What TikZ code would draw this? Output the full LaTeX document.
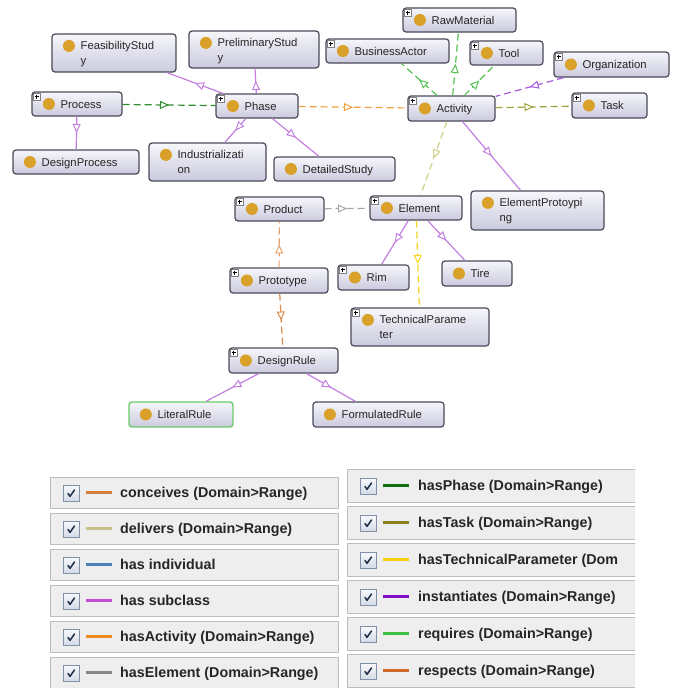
\documentclass[tikz,border=0pt]{standalone}
\usepackage{fontspec}
\setmainfont{Liberation Sans}
\usetikzlibrary{arrows.meta,decorations.markings,fit,calc}
\definecolor{nodetop}{HTML}{F6F6FB}
\definecolor{nodebot}{HTML}{CACADE}
\definecolor{nodeedge}{HTML}{4A4A58}
\definecolor{dotc}{HTML}{D9A02A}
\definecolor{litgreen}{HTML}{6CCB6C}
\definecolor{txtc}{HTML}{262626}
% graph edge colours
\definecolor{gsub}{HTML}{C47FE0}
\definecolor{gphase}{HTML}{2E8B2E}
\definecolor{gact}{HTML}{F2A040}
\definecolor{greq}{HTML}{55C455}
\definecolor{ginst}{HTML}{A65AE0}
\definecolor{gtask}{HTML}{A0A038}
\definecolor{gdel}{HTML}{CFCF88}
\definecolor{gelem}{HTML}{A8A8A8}
\definecolor{gtp}{HTML}{F2D41A}
\definecolor{gconc}{HTML}{E5A070}
\definecolor{gresp}{HTML}{DC8A48}
% legend colours
\definecolor{lconc}{HTML}{D4803C}
\definecolor{ldel}{HTML}{C8C08A}
\definecolor{lind}{HTML}{4A80B8}
\definecolor{lsub}{HTML}{C050D0}
\definecolor{lact}{HTML}{F08A20}
\definecolor{lelem}{HTML}{888888}
\definecolor{lphase}{HTML}{107010}
\definecolor{ltask}{HTML}{8A8020}
\definecolor{ltp}{HTML}{F8D010}
\definecolor{linst}{HTML}{8010C8}
\definecolor{lreq}{HTML}{40C040}
\definecolor{lresp}{HTML}{D06828}
\definecolor{rowfill}{HTML}{EEEEEE}
\definecolor{rowedge}{HTML}{BDBDBD}
\definecolor{chktop}{HTML}{F8F9FC}
\definecolor{chkbot}{HTML}{D3DBE6}
\definecolor{chkedge}{HTML}{8391A8}
\definecolor{chkmark}{HTML}{1C2C44}

\tikzset{
  clsnode/.style={draw=nodeedge,line width=1.2pt,rounded corners=3pt,
    top color=nodetop,bottom color=nodebot,inner sep=0pt},
  lbl/.style={inner sep=0pt,text=txtc,font=\fontsize{11.3}{13}\selectfont},
  plusbox/.style={draw=gray,fill=white,line width=0.5pt},
  edge/.style={line width=1.2pt},
  dsh/.style={dash pattern=on 7pt off 4pt},
  midarr/.style={postaction={decorate,decoration={markings,
     mark=at position 0.5 with {\arrow[solid,line width=1pt]{Triangle[open,length=9pt,width=8pt,fill=white]}}}}},
  subedge/.style={edge,draw=gsub,midarr},
  phaseedge/.style={edge,dsh,draw=gphase,midarr},
  actedge/.style={edge,dsh,draw=gact,midarr},
  reqedge/.style={edge,dsh,draw=greq,midarr},
  instedge/.style={edge,dsh,draw=ginst,midarr},
  taskedge/.style={edge,dsh,draw=gtask,midarr},
  deledge/.style={edge,dsh,draw=gdel,midarr},
  elemedge/.style={edge,dsh,draw=gelem,midarr},
  tpedge/.style={edge,dsh,draw=gtp,midarr},
  concedge/.style={edge,dsh,draw=gconc,midarr},
  respedge/.style={edge,dsh,draw=gresp,midarr},
  legrow/.style={draw=rowedge,fill=rowfill,line width=0.8pt,inner sep=0pt},
  chkbox/.style={draw=chkedge,top color=chktop,bottom color=chkbot,line width=0.8pt,
    minimum size=16pt,inner sep=0pt},
  legtxt/.style={inner sep=0pt,text=txtc,font=\fontsize{14.3}{16}\selectfont\bfseries},
}

\newcommand\clsbox[6]{\node[clsnode,#6,fit={(#2,#3) (#4,#5)}] (#1) {};}
\newcommand\oneline[2]{%
  \fill[dotc] ($(#1.west)+(17.5,0)$) circle (6);
  \node[lbl,anchor=base west] (#1-t) at ($(#1.west)+(29,4)$) {#2};}
\newcommand\twoline[3]{%
  \fill[dotc] ($(#1.north west)+(17.5,12.5)$) circle (6);
  \node[lbl,anchor=base west] (#1-t1) at ($(#1.north west)+(29,16.5)$) {#2};
  \node[lbl,anchor=base west] (#1-t2) at ($(#1.north west)+(29,31)$) {#3};}
\newcommand\plusic[1]{%
  \draw[plusbox] ($(#1.north west)+(2,2)$) rectangle ++(6.5,6.5);
  \draw[black,line width=0.6pt] ($(#1.north west)+(3.4,5.25)$) -- ++(3.7,0)
     ($(#1.north west)+(5.25,3.4)$) -- ++(0,3.7);}

\begin{document}
\begin{tikzpicture}[x=1pt,y=-1pt]
\useasboundingbox[fill=white] (0,0) rectangle (678,688);

% ---------------- class nodes ----------------
\clsbox{Feas}{52}{34}{176}{72}{}
\clsbox{Prelim}{189}{31}{319}{68}{}
\clsbox{Process}{32}{92}{122}{116}{}
\clsbox{Phase}{216}{94}{298}{118}{}
\clsbox{DesignProcess}{13}{150}{139}{174}{}
\clsbox{Indus}{149}{143}{266}{181}{}
\clsbox{Detailed}{274}{157}{395}{181}{}
\clsbox{RawMaterial}{403}{8}{516}{32}{}
\clsbox{BusinessActor}{326}{39}{449}{63}{}
\clsbox{Tool}{470}{41}{543}{65}{}
\clsbox{Organization}{554}{52}{669}{77}{}
\clsbox{Activity}{408}{96}{495}{121}{}
\clsbox{Task}{572}{93}{647}{118}{}
\clsbox{ElemProto}{471}{191}{604}{230}{}
\clsbox{Element}{370}{196}{462}{220}{}
\clsbox{Product}{235}{197}{324}{221}{}
\clsbox{Prototype}{230}{268}{328}{293}{}
\clsbox{Rim}{338}{265}{409}{290}{}
\clsbox{Tire}{442}{261}{512}{286}{}
\clsbox{TechParam}{351}{308}{489}{346}{}
\clsbox{DesignRule}{229}{348}{338}{373}{}
\clsbox{Literal}{129}{402}{233}{427}{draw=litgreen,line width=1.4pt}
\clsbox{Formulated}{313}{402}{444}{427}{}

% ---------------- edges ----------------
\draw[subedge] (Phase) -- (Feas);
\draw[subedge] (Phase) -- (Prelim);
\draw[subedge] (Process) -- (DesignProcess);
\draw[subedge] (Phase) -- (Indus);
\draw[subedge] (Phase) -- (Detailed);
\draw[subedge] (Activity) -- (ElemProto);
\draw[subedge] (Element) -- (Rim);
\draw[subedge] (Element) -- (Tire);
\draw[subedge] (DesignRule) -- (Literal);
\draw[subedge] (DesignRule) -- (Formulated);
\draw[phaseedge] (Process) -- (Phase);
\draw[actedge] (Phase) -- (Activity);
\draw[reqedge] (Activity) -- (BusinessActor);
\draw[reqedge] (Activity) -- (RawMaterial);
\draw[reqedge] (Activity) -- (Tool);
\draw[instedge] (Organization) -- (Activity);
\draw[taskedge] (Activity) -- (Task);
\draw[deledge] (Activity) -- (Element);
\draw[elemedge] (Product) -- (Element);
\draw[tpedge] (Element) -- (TechParam);
\draw[concedge] (Prototype) -- (Product);
\draw[respedge] (Prototype) -- (DesignRule);

% ---------------- labels, dots, plus icons ----------------
\twoline{Feas}{FeasibilityStud}{y}
\twoline{Prelim}{PreliminaryStud}{y}
\oneline{Process}{Process}
\oneline{Phase}{Phase}
\oneline{DesignProcess}{DesignProcess}
\twoline{Indus}{Industrializati}{on}
\oneline{Detailed}{DetailedStudy}
\oneline{RawMaterial}{RawMaterial}
\oneline{BusinessActor}{BusinessActor}
\oneline{Tool}{Tool}
\oneline{Organization}{Organization}
\oneline{Activity}{Activity}
\oneline{Task}{Task}
\twoline{ElemProto}{ElementProtoypi}{ng}
\oneline{Element}{Element}
\oneline{Product}{Product}
\oneline{Prototype}{Prototype}
\oneline{Rim}{Rim}
\oneline{Tire}{Tire}
\twoline{TechParam}{TechnicalParame}{ter}
\oneline{DesignRule}{DesignRule}
\oneline{Literal}{LiteralRule}
\oneline{Formulated}{FormulatedRule}
\foreach \n in {Process,Phase,RawMaterial,BusinessActor,Tool,Organization,Activity,Task,Element,Product,Prototype,Rim,TechParam,DesignRule}{\plusic{\n}}

% ---------------- legend ----------------
\foreach \i/\t/\c in {0/{conceives (Domain>Range)}/lconc,1/{delivers (Domain>Range)}/ldel,
  2/{has individual}/lind,3/{has subclass}/lsub,4/{hasActivity (Domain>Range)}/lact,
  5/{hasElement (Domain>Range)}/lelem}{
  \node[legrow,fit={(50,{477+36*\i}) (338,{508+36*\i})}] (LL\i) {};
  \node[chkbox] (LC\i) at (71.5,{493+36*\i}) {};
  \draw[chkmark,line width=1.5pt,line cap=round,line join=round]
     ($(LC\i.center)+(-3.5,0.5)$) -- ($(LC\i.center)+(-1.5,3.3)$) -- ($(LC\i.center)+(3,-3)$);
  \draw[\c,line width=3pt] (86,{492.5+36*\i}) -- (112,{492.5+36*\i});
  \node[legtxt,anchor=base west] (LT\i) at (120,{492.5+36*\i+5.2}) {\t};
}
\begin{scope}
\clip (340,460) rectangle (635,688);
\foreach \i/\t/\c in {0/{hasPhase (Domain>Range)}/lphase,1/{hasTask (Domain>Range)}/ltask,
  2/{hasTechnicalParameter (Dom}/ltp,3/{instantiates (Domain>Range)}/linst,
  4/{requires (Domain>Range)}/lreq,5/{respects (Domain>Range)}/lresp}{
  \node[legrow,fit={(347,{469+37*\i}) (640,{502+37*\i})}] (RL\i) {};
  \node[chkbox] (RC\i) at (368.5,{486+37*\i}) {};
  \draw[chkmark,line width=1.5pt,line cap=round,line join=round]
     ($(RC\i.center)+(-3.5,0.5)$) -- ($(RC\i.center)+(-1.5,3.3)$) -- ($(RC\i.center)+(3,-3)$);
  \draw[\c,line width=3pt] (383,{485.5+37*\i}) -- (409,{485.5+37*\i});
  \node[legtxt,anchor=base west] (RT\i) at (418,{485.5+37*\i+5.2}) {\t};
}
\end{scope}
\end{tikzpicture}
\end{document}
